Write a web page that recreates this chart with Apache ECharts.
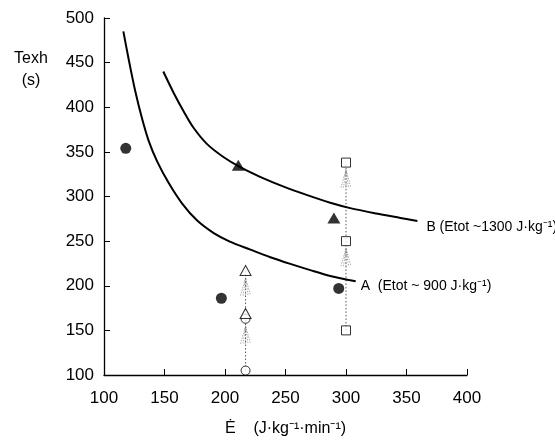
<!DOCTYPE html>
<html><head><meta charset="utf-8">
<script src="https://cdn.jsdelivr.net/npm/echarts@6/dist/echarts.min.js"></script>
<style>html,body{margin:0;padding:0;background:#fff}#c{width:555px;height:442px}</style>
</head><body><div id="c"></div>
<script>
// Curves (iso-energy lines)
const curveA = [[116,485],[120.5,453],[126,417],[131.5,387],[137,362],[144,339],[153.5,315],[164.6,292],[177,273],[190.7,259],[204,249.5],[221,240.5],[237.5,232],[254,224.5],[270.5,217.5],[287,211],[308,205]];
const curveB = [[149,440],[157.6,416],[166,395],[174,377],[185,359],[199,344],[213,332.5],[229,322],[248.5,311],[268,301.5],[287,293],[303.5,287],[325,281],[345,276],[359,272.5]];
// Points
const filledCircles = [[118,354],[197,186],[294,197]];
const filledTriangles = [[211,335],[290,276]];
const openSquares = [[300,150],[300,250],[300,338]];
const openCircles = [[217,105],[217,163]];
const openTriangles = [[217,169],[217,217]];
// Region labels
const regionLabels = [[245,367,'LIGHT'],[216,290,'MODERATE'],[145,167,'SEVERE']];
const curveALabel = 'A  (Etot ~ 900 J·kg⁻¹)';
const curveBLabel = 'B (Etot ~1300 J·kg⁻¹)';
const xTitle = 'Ė    (J·kg⁻¹·min⁻¹)';
const yTitle = ['Texh', '(s)'];

const FONT = "'Liberation Sans', Arial, Helvetica, sans-serif";
const chart = echarts.init(document.getElementById('c'), null, {renderer:'canvas'});

const shaftSquares = [openSquares[0], openSquares[openSquares.length-1]];
const shaftCircTri = [openCircles[0], openTriangles[openTriangles.length-1]];
const arrowTargets = openSquares.slice(1).concat([openCircles[1], openTriangles[1]]);
const arrowPath = 'path://M0,18 L5,0 L10,18 M2.5,18 L5,0 L7.5,18 M5,18 L5,0';

chart.setOption({
  animation:false,
  grid:{left:104,right:88,top:18,bottom:64,containLabel:false},
  xAxis:{type:'value',min:100,max:400,interval:50,
    name:xTitle,nameLocation:'middle',nameGap:46,
    nameTextStyle:{fontFamily:FONT,fontSize:16,color:'#000'},
    axisLine:{show:true,onZero:false,lineStyle:{color:'#000',width:1.3}},
    axisTick:{show:true,inside:true,length:6,lineStyle:{color:'#000',width:1}},
    axisLabel:{fontFamily:FONT,fontSize:17,color:'#000',margin:15},
    splitLine:{show:false}},
  yAxis:{type:'value',min:100,max:500,interval:50,
    axisLine:{show:true,onZero:false,lineStyle:{color:'#000',width:1.3}},
    axisTick:{show:true,inside:true,length:6,lineStyle:{color:'#000',width:1}},
    axisLabel:{fontFamily:FONT,fontSize:17,color:'#000',margin:10},
    splitLine:{show:false}},
  graphic:[
    {type:'text',style:{text:yTitle[0],x:31,y:59,textAlign:'center',textVerticalAlign:'middle',font:'16px '+FONT,fill:'#000'}},
    {type:'text',style:{text:yTitle[1],x:31,y:81,textAlign:'center',textVerticalAlign:'middle',font:'16px '+FONT,fill:'#000'}}
  ],
  series:[
    {type:'line',data:shaftSquares,symbol:'none',z:1,lineStyle:{color:'#555',width:1,type:[1.5,2]}},
    {type:'line',data:shaftCircTri,symbol:'none',z:1,lineStyle:{color:'#555',width:1,type:[1.5,2]}},
    {type:'scatter',data:arrowTargets,symbol:arrowPath,symbolSize:[10,18],symbolOffset:[0,16],z:2,
      itemStyle:{color:'none',borderColor:'#777',borderWidth:1,borderType:'dotted'}},
    {type:'line',data:curveA,smooth:0.3,symbol:'none',z:3,lineStyle:{color:'#000',width:2},
      endLabel:{show:true,formatter:curveALabel,distance:5,offset:[0,5],fontFamily:FONT,fontSize:14,color:'#000'}},
    {type:'line',data:curveB,smooth:0.3,symbol:'none',z:3,lineStyle:{color:'#000',width:2},
      endLabel:{show:true,formatter:curveBLabel,distance:9,offset:[0,6],fontFamily:FONT,fontSize:14,color:'#000'}},
    {type:'scatter',data:filledCircles,symbol:'circle',symbolSize:11,z:5,itemStyle:{color:'#000'}},
    {type:'scatter',data:filledTriangles,symbol:'triangle',symbolSize:[13,11],z:5,itemStyle:{color:'#000'}},
    {type:'scatter',data:openCircles,symbol:'circle',symbolSize:9,z:5,itemStyle:{color:'#fff',borderColor:'#000',borderWidth:1}},
    {type:'scatter',data:openTriangles,symbol:'triangle',symbolSize:[11,10],z:6,itemStyle:{color:'#fff',borderColor:'#000',borderWidth:1}},
    {type:'scatter',data:openSquares,symbol:'rect',symbolSize:9,z:5,itemStyle:{color:'#fff',borderColor:'#000',borderWidth:1}},
    {type:'scatter',data:regionLabels.map(r=>({value:[r[0],r[1]],name:r[2]})),symbol:'none',symbolSize:0,z:4,silent:true,
      label:{show:true,position:'inside',formatter:p=>p.name,fontFamily:FONT,fontSize:15,color:'#000'}}
  ]
});
</script></body></html>
